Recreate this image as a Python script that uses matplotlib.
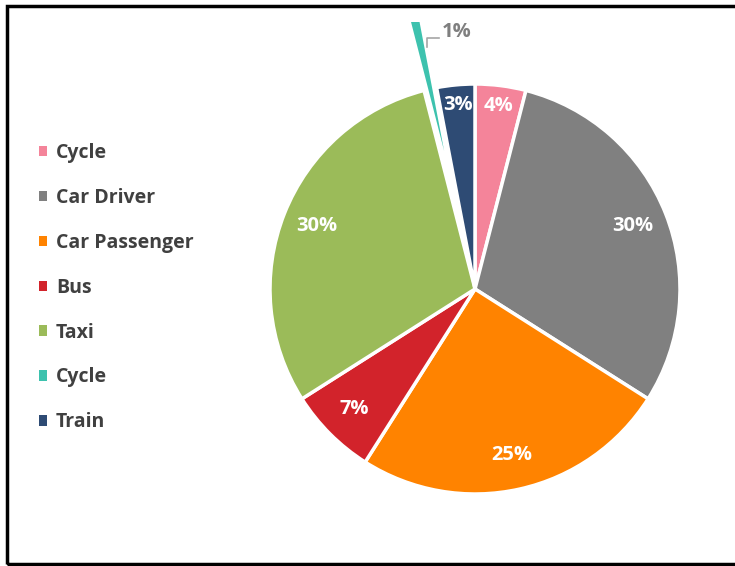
import matplotlib
matplotlib.use("Agg")
import matplotlib.pyplot as plt
from matplotlib.patches import Patch, Rectangle
import numpy as np

plt.rcParams['font.family'] = ['Open Sans', 'DejaVu Sans']

# data
modes = ['Cycle', 'Car Driver', 'Car Passenger', 'Bus', 'Taxi', 'Cycle', 'Train']
shares = [4, 30, 25, 7, 30, 1, 3]
colors = ['#F4849A', '#808080', '#FF8300', '#D2232B', '#9BBB59', '#3DC2AE', '#2E4B74']
explode = [0, 0, 0, 0, 0, 0.42, 0]

W, H = 735, 566
fig = plt.figure(figsize=(W / 100, H / 100), dpi=100)

# pie placed in pixel space: centre (475, 289), radius 205 px
cx, cy, R = 475, 289, 205
left, right, top, bottom = 255, 705, 22, 525
ax = fig.add_axes([left / W, (H - bottom) / H, (right - left) / W, (bottom - top) / H])

wedges, texts, autotexts = ax.pie(
    shares, colors=colors, explode=explode, startangle=90, counterclock=False,
    autopct='%d%%', pctdistance=0.83,
    wedgeprops=dict(edgecolor='white', linewidth=2.5),
    textprops=dict(color='white', fontsize=14.5, fontweight='bold'))
ax.set_aspect('auto')
ax.set_xlim((left - cx) / R, (right - cx) / R)
ax.set_ylim((cy - bottom) / R, (cy - top) / R)
ax.axis('off')

# small slices: push labels a little outward, the exploded one gets a leader label
for i, (w, t) in enumerate(zip(wedges, autotexts)):
    w.set_clip_on(True)
    w.set_clip_path(ax.patch)
    ang = np.deg2rad((w.theta1 + w.theta2) / 2)
    if shares[i] <= 4 and explode[i] == 0:
        t.set_position((0.9 * np.cos(ang), 0.9 * np.sin(ang)))
    if explode[i] > 0:
        t.set_visible(False)
        lx, ly = (427 - cx) / R, (cy - 47) / R
        kx, ky = (427 - cx) / R, (cy - 38) / R
        ex = (439 - cx) / R
        ax.plot([lx, kx, ex], [ly, ky, ky], color='#A6A6A6', lw=1.2, clip_on=False)
        ax.text(ex + 0.012, ky + 0.03, f'{shares[i]}%', color='#7F7F7F',
                fontsize=14.5, fontweight='bold', ha='left', va='center')

handles = [Patch(facecolor=c, edgecolor='none') for c in colors]
leg = fig.legend(handles, modes, loc='upper left', bbox_to_anchor=(21 / W, (H - 125.5) / H),
                 frameon=False, fontsize=14, labelspacing=1.28,
                 handlelength=0.45, handleheight=0.45, handletextpad=0.45)
for t in leg.get_texts():
    t.set_color('#404040')
    t.set_fontweight('bold')

# outer frame
fig.patches.append(Rectangle((7.5 / W, 2.5 / H), 1.0, (H - 8) / H, transform=fig.transFigure,
                             fill=False, edgecolor='black', linewidth=2.5))

fig.savefig('out.png', dpi=100)
